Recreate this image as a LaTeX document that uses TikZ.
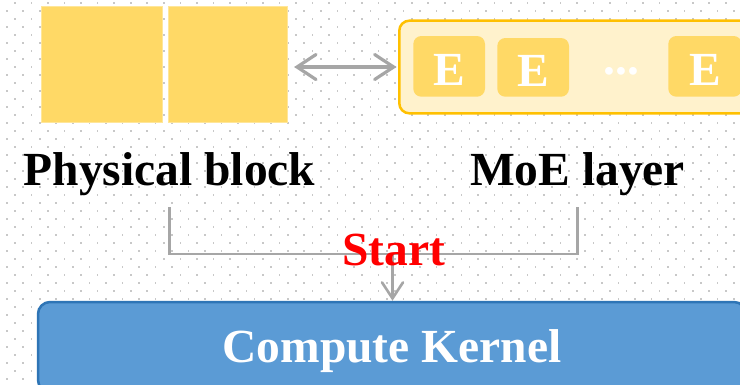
\documentclass[tikz,border=0pt]{standalone}
\usepackage{fontspec}
\setmainfont{Liberation Serif}
\usetikzlibrary{arrows.meta}
\definecolor{blockyellow}{HTML}{FFD966}
\definecolor{blockedge}{HTML}{FFE699}
\definecolor{moefill}{HTML}{FFF2CC}
\definecolor{moeedge}{HTML}{FFC000}
\definecolor{kernelfill}{HTML}{5B9BD5}
\definecolor{kerneledge}{HTML}{2E75B6}
\definecolor{linkgray}{HTML}{A6A6A6}
\definecolor{griddot}{HTML}{C8C8C8}
\begin{document}
\begin{tikzpicture}[x=1pt,y=-1pt,
  bigfont/.style={font=\fontsize{47.5}{57}\selectfont\bfseries},
  blockbox/.style={draw=blockedge,line width=0.8pt,fill=blockyellow,inner sep=0pt},
  moebox/.style={draw=moeedge,line width=2.5pt,fill=moefill,rounded corners=10pt,inner sep=0pt},
  expertbox/.style={fill=blockyellow,rounded corners=8pt,inner sep=0pt,bigfont,text=white,
    text height=37.3pt,text depth=0pt},
  label/.style={bigfont,inner xsep=0pt,inner ysep=11.7pt,anchor=base},
  kernelbox/.style={draw=kerneledge,line width=2.5pt,fill=kernelfill,rounded corners=12pt,
    inner sep=0pt,bigfont,text=white,text height=40.3pt,text depth=10.3pt},
  link/.style={draw=linkgray,line width=2.2pt},
  biarrow/.style={draw=linkgray,line width=3.2pt,
    {Straight Barb[length=19pt,width=25pt,line cap=round]}-{Straight Barb[length=19pt,width=25pt,line cap=round]}},
  downarrow/.style={draw=linkgray,line width=2.6pt,-{Straight Barb[length=16pt,width=21pt,line cap=round]}}
]
\useasboundingbox (0,0) rectangle (740,384);
\clip (0,0) rectangle (740,384);
\fill[white] (0,0) rectangle (740,384);

% staggered dot grid in the background
\foreach \k in {0,...,47}{
  \pgfmathsetmacro\yy{2.7+8*\k}
  \pgfmathsetmacro\xo{mod(\k,2)==1 ? 6.7 : -1.53}
  \foreach \m in {0,...,45}{
    \fill[griddot] ({\xo+16.53*\m-0.8},{\yy-0.8}) rectangle ++(1.6,1.6);
  }
}

% physical block: two yellow squares
\node[blockbox,minimum width=121pt,minimum height=115.3pt] (blk1) at (102.2,64.35) {};
\node[blockbox,minimum width=119.4pt,minimum height=115.3pt] (blk2) at (228,64.35) {};

% MoE layer with its experts
\node[moebox,minimum width=370.7pt,minimum height=92.6pt] (moe) at (584.65,67) {};
\node[expertbox,minimum width=71.7pt,minimum height=60.7pt] (e1) at (449.15,66.35) {E};
\node[expertbox,minimum width=71.7pt,minimum height=58.7pt] (e2) at (533.15,67.35) {E};
\node[expertbox,minimum width=73.4pt,minimum height=60.7pt] (e3) at (705,66.35) {E};
\node[bigfont,text=white,anchor=base,inner sep=0pt] (dots) at (621.7,74) {...};

% mapping between the block and the layer
\draw[biarrow,shorten <=6pt,shorten >=1.5pt] (moe.west -| blk2.east) -- (moe.west);

% captions
\node[label] (plabel) at (169.5,185) {Physical block};
\node[label] (mlabel) at (577.5,185) {MoE layer};

% both feed the compute kernel
\node[kernelbox,minimum width=708pt,minimum height=90pt] (kernel) at (392,347) {Compute Kernel};
\coordinate (join) at (392.5,254);
\draw[link] (plabel.south) |- (join) -| (mlabel.south);
\draw[downarrow] (join) -- (join |- kernel.north);

\node[bigfont,text=red,anchor=base,inner sep=0pt] (start) at (393.8,265) {Start};
\end{tikzpicture}
\end{document}
